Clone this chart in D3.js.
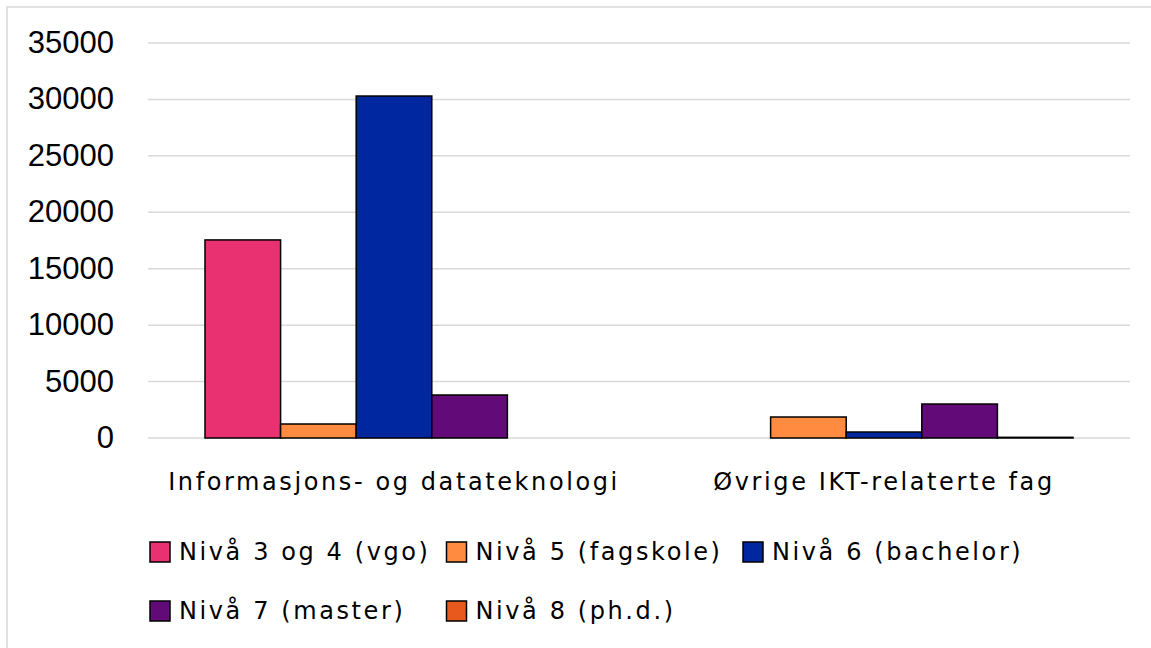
<!DOCTYPE html>
<html>
<head>
<meta charset="utf-8">
<script src="https://cdn.jsdelivr.net/npm/d3@7"></script>
<style>
  html, body { margin: 0; padding: 0; background: #ffffff; }
  svg { display: block; }
</style>
</head>
<body>
<svg id="chart" width="1151" height="648"></svg>
<script>
const categories = ["Informasjons- og datateknologi", "Øvrige IKT-relaterte fag"];
const seriesNames = ["Nivå 3 og 4 (vgo)", "Nivå 5 (fagskole)", "Nivå 6 (bachelor)", "Nivå 7 (master)", "Nivå 8 (ph.d.)"];
const seriesColors = ["#E93070", "#FF8B40", "#0027A0", "#620A78", "#E8591E"];
const niva34 = [17550, 0];
const niva5 = [1240, 1860];
const niva6 = [30300, 530];
const niva7 = [3810, 3010];
const niva8 = [0, 60];
const yTicks = [0, 5000, 10000, 15000, 20000, 25000, 30000, 35000];

const seriesValues = [niva34, niva5, niva6, niva7, niva8];

const svg = d3.select("#chart");
const W = 1151, H = 648;
const plot = { left: 148, right: 1130, top: 43, bottom: 438 };
const labelFont = "'DejaVu Sans', 'Noto Sans', sans-serif";

// outer border
svg.append("rect")
  .attr("x", 7).attr("y", 7)
  .attr("width", W + 20).attr("height", H + 20)
  .attr("fill", "none").attr("stroke", "#d9d9d9").attr("stroke-width", 1.5);

const y = d3.scaleLinear().domain([0, 35000]).range([plot.bottom, plot.top]);
const x0 = d3.scaleBand().domain(categories).range([plot.left, plot.right])
  .paddingInner(0.2286).paddingOuter(0.1163);
const x1 = d3.scaleBand().domain(seriesNames).range([0, x0.bandwidth()]).padding(0);

// gridlines
svg.append("g")
  .selectAll("line").data(yTicks).join("line")
  .attr("x1", plot.left).attr("x2", plot.right)
  .attr("y1", d => y(d)).attr("y2", d => y(d))
  .attr("stroke", "#d9d9d9").attr("stroke-width", 1.5);

// y tick labels via axis
const yAxis = d3.axisLeft(y).tickValues(yTicks).tickFormat(d3.format("d")).tickSize(0).tickPadding(0);
const yg = svg.append("g").attr("transform", `translate(114,0)`).call(yAxis);
yg.select(".domain").remove();
yg.selectAll("text")
  .attr("font-family", "'Liberation Sans', Arial, sans-serif")
  .attr("font-size", 31)
  .attr("fill", "#000")
  .attr("dy", null)
  .attr("y", 9.5)
  .attr("text-anchor", "end");

// bars
const barData = [];
categories.forEach((c, ci) => {
  seriesNames.forEach((s, si) => {
    const v = seriesValues[si][ci];
    if (v > 0) barData.push({ c, s, v, color: seriesColors[si] });
  });
});
svg.append("g").selectAll("rect").data(barData).join("rect")
  .attr("x", d => x0(d.c) + x1(d.s))
  .attr("width", x1.bandwidth())
  .attr("y", d => y(d.v))
  .attr("height", d => y(0) - y(d.v))
  .attr("fill", d => d.color)
  .attr("stroke", "#000")
  .attr("stroke-width", 1.5);

// category labels
const xAxis = d3.axisBottom(x0).tickSize(0).tickPadding(0);
const xg = svg.append("g").call(xAxis);
xg.select(".domain").remove();
xg.selectAll("text")
  .attr("font-family", labelFont)
  .attr("font-size", 24)
  .attr("letter-spacing", 2.6)
  .attr("fill", "#000")
  .attr("dy", null)
  .attr("y", 490);

// legend
const legendCols = 3, colW = 296.5;
const legend = svg.append("g");
const items = legend.selectAll("g").data(seriesNames).join("g")
  .attr("transform", (d, i) => `translate(${150 + (i % legendCols) * colW},${552 + Math.floor(i / legendCols) * 59})`);
items.append("rect")
  .attr("x", 0).attr("y", -10).attr("width", 20).attr("height", 20)
  .attr("fill", (d, i) => seriesColors[i])
  .attr("stroke", "#000").attr("stroke-width", 1.5);
items.append("text")
  .attr("x", 29).attr("y", 8)
  .attr("font-family", labelFont)
  .attr("font-size", 24)
  .attr("letter-spacing", 2.6)
  .attr("fill", "#000")
  .text(d => d);
</script>
</body>
</html>
